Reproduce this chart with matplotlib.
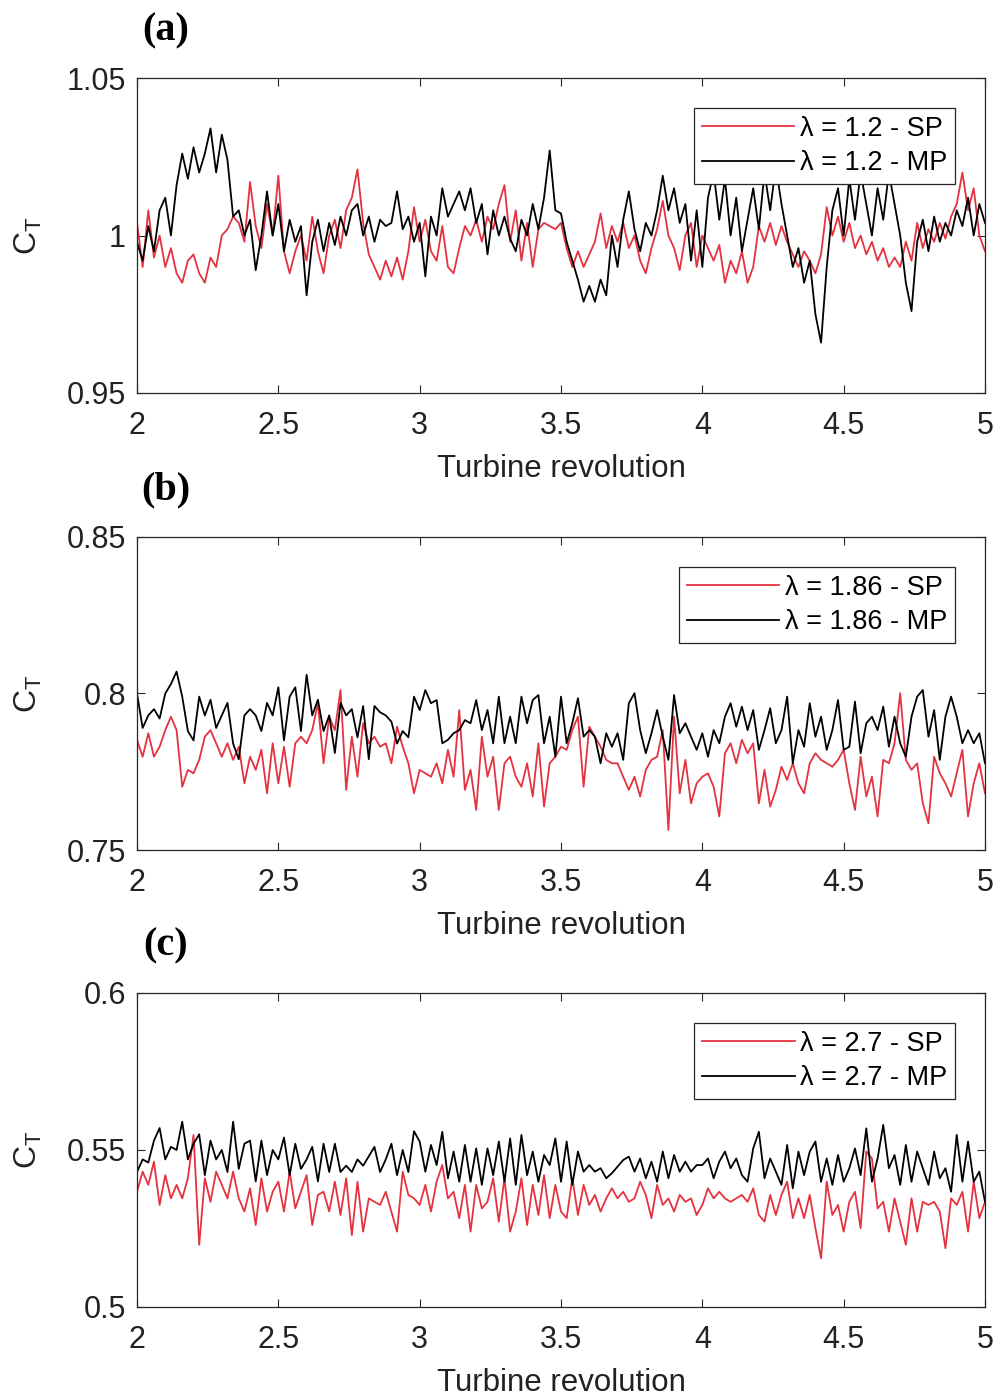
import matplotlib.pyplot as plt
import numpy as np

plt.rcParams['font.family'] = ['Liberation Sans', 'DejaVu Sans']
plt.rcParams['mathtext.fontset'] = 'custom'
plt.rcParams['mathtext.rm'] = 'Liberation Sans'

# revolution grid, 0.02 rev step
rev = np.linspace(2, 5, 151)

# (a) lambda = 1.2
ct_a_sp = [1.004, 0.990, 1.008, 0.993, 1.000, 0.990, 0.996, 0.988, 0.985, 0.992,
           0.994, 0.988, 0.985, 0.993, 0.990, 1.000, 1.002, 1.006, 1.004, 0.998,
           1.017, 1.003, 0.996, 1.010, 1.000, 1.019, 0.995, 0.988, 0.995, 1.000,
           0.992, 1.006, 0.995, 0.988, 1.000, 1.005, 0.996, 1.008, 1.012, 1.021,
           1.004, 0.994, 0.990, 0.986, 0.992, 0.987, 0.993, 0.986, 0.995, 1.009,
           0.998, 1.005, 0.995, 0.992, 1.003, 0.990, 0.988, 0.996, 1.003, 1.000,
           1.005, 0.998, 1.006, 1.002, 1.010, 1.016, 0.998, 1.008, 0.992, 1.004,
           0.990, 1.002, 1.004, 1.003, 1.002, 1.004, 0.996, 0.990, 0.995, 0.990,
           0.994, 0.998, 1.007, 0.996, 1.003, 0.998, 1.004, 0.996, 1.000, 0.992,
           0.988, 0.996, 1.002, 1.011, 1.000, 0.996, 0.989, 1.000, 1.004, 0.990,
           1.000, 0.996, 0.992, 0.997, 0.985, 0.992, 0.988, 0.995, 0.985, 0.990,
           1.003, 0.998, 1.004, 0.997, 1.003, 0.998, 0.994, 0.990, 0.995, 0.992,
           0.988, 0.994, 1.009, 1.000, 1.006, 0.998, 1.004, 0.996, 1.000, 0.994,
           0.998, 0.992, 0.996, 0.990, 0.993, 0.990, 0.998, 0.992, 1.004, 0.996,
           1.002, 0.998, 1.004, 0.999, 1.006, 1.010, 1.020, 1.008, 1.015, 1.000,
           0.995]
ct_a_mp = [0.998, 0.992, 1.003, 0.995, 1.008, 1.012, 1.000, 1.016, 1.026, 1.018,
           1.028, 1.020, 1.026, 1.034, 1.020, 1.032, 1.024, 1.006, 1.008, 1.000,
           1.005, 0.989, 1.000, 1.014, 1.000, 1.010, 0.995, 1.005, 0.998, 1.003,
           0.981, 0.998, 1.005, 0.995, 1.004, 0.997, 1.006, 1.000, 1.008, 1.010,
           1.000, 1.006, 0.998, 1.005, 1.003, 1.004, 1.014, 1.002, 1.006, 0.998,
           1.004, 0.987, 1.006, 1.000, 1.015, 1.006, 1.010, 1.014, 1.008, 1.015,
           1.004, 1.010, 0.994, 1.008, 1.000, 1.006, 0.999, 0.995, 1.005, 1.000,
           1.010, 1.002, 1.012, 1.027, 1.008, 1.007, 0.998, 0.992, 0.986, 0.979,
           0.984, 0.979, 0.986, 0.981, 1.000, 0.990, 1.005, 1.014, 1.002, 0.995,
           1.004, 1.000, 1.008, 1.019, 1.008, 1.015, 1.004, 1.010, 0.992, 1.008,
           0.990, 1.012, 1.020, 1.005, 1.018, 1.000, 1.012, 0.995, 1.005, 1.015,
           1.002, 1.020, 1.008, 1.022, 1.010, 1.000, 0.990, 0.996, 0.985, 0.992,
           0.975, 0.966, 0.990, 1.008, 1.015, 1.000, 1.018, 1.005, 1.020, 1.010,
           1.000, 1.015, 1.005, 1.020, 1.010, 1.000, 0.985, 0.976, 0.998, 1.005,
           0.995, 1.006, 0.998, 1.004, 1.000, 1.008, 1.003, 1.012, 1.000, 1.010,
           1.004]

# (b) lambda = 1.86
ct_b_sp = [0.7852, 0.7798, 0.7873, 0.7798, 0.7830, 0.7883, 0.7926, 0.7883, 0.7702, 0.7756,
           0.7745, 0.7788, 0.7862, 0.7883, 0.7841, 0.7798, 0.7841, 0.7788, 0.7830, 0.7713,
           0.7798, 0.7756, 0.7820, 0.7681, 0.7841, 0.7713, 0.7830, 0.7702, 0.7841, 0.7862,
           0.7841, 0.7883, 0.7969, 0.7777, 0.7926, 0.7883, 0.8011, 0.7692, 0.7862, 0.7734,
           0.7905, 0.7841, 0.7862, 0.7830, 0.7841, 0.7777, 0.7894, 0.7830, 0.7777, 0.7681,
           0.7756, 0.7745, 0.7734, 0.7777, 0.7713, 0.7820, 0.7734, 0.7947, 0.7692, 0.7756,
           0.7628, 0.7862, 0.7734, 0.7798, 0.7628, 0.7777, 0.7798, 0.7734, 0.7702, 0.7777,
           0.7671, 0.7841, 0.7639, 0.7777, 0.7798, 0.7830, 0.7820, 0.7883, 0.7926, 0.7702,
           0.7894, 0.7862, 0.7830, 0.7788, 0.7777, 0.7777, 0.7734, 0.7692, 0.7734, 0.7671,
           0.7756, 0.7788, 0.7798, 0.7883, 0.7564, 0.7926, 0.7681, 0.7788, 0.7649, 0.7713,
           0.7734, 0.7745, 0.7702, 0.7607, 0.7809, 0.7841, 0.7777, 0.7852, 0.7809, 0.7841,
           0.7649, 0.7756, 0.7639, 0.7692, 0.7766, 0.7724, 0.7777, 0.7713, 0.7681, 0.7777,
           0.7809, 0.7788, 0.7777, 0.7766, 0.7788, 0.7820, 0.7713, 0.7628, 0.7798, 0.7671,
           0.7734, 0.7607, 0.7788, 0.7777, 0.7841, 0.8001, 0.7788, 0.7756, 0.7777, 0.7649,
           0.7585, 0.7798, 0.7745, 0.7713, 0.7671, 0.7745, 0.7820, 0.7607, 0.7713, 0.7777,
           0.7681]
ct_b_mp = [0.800, 0.789, 0.793, 0.795, 0.792, 0.800, 0.803, 0.807, 0.799, 0.788,
           0.785, 0.799, 0.793, 0.798, 0.789, 0.793, 0.797, 0.784, 0.779, 0.793,
           0.795, 0.793, 0.788, 0.797, 0.793, 0.802, 0.785, 0.799, 0.802, 0.788,
           0.806, 0.793, 0.798, 0.788, 0.793, 0.781, 0.797, 0.793, 0.795, 0.786,
           0.796, 0.779, 0.796, 0.794, 0.793, 0.791, 0.784, 0.788, 0.786, 0.799,
           0.7947, 0.8011, 0.7969, 0.7979, 0.7841, 0.7852, 0.7873, 0.7883, 0.7915, 0.7905,
           0.7979, 0.7883, 0.7947, 0.7841, 0.7990, 0.7841, 0.7926, 0.7841, 0.7990, 0.7905,
           0.7979, 0.7995, 0.7841, 0.7926, 0.7798, 0.7990, 0.7841, 0.7905, 0.7985, 0.7862,
           0.7883, 0.7862, 0.7777, 0.7873, 0.7830, 0.7873, 0.7788, 0.7969, 0.8001, 0.7883,
           0.7809, 0.7873, 0.7947, 0.7862, 0.7788, 0.7995, 0.7873, 0.7905, 0.7862, 0.7820,
           0.7873, 0.7798, 0.7883, 0.7841, 0.7926, 0.7969, 0.7894, 0.7958, 0.7883, 0.7947,
           0.7820, 0.7883, 0.7953, 0.7841, 0.7883, 0.7990, 0.7777, 0.7883, 0.7830, 0.7969,
           0.7862, 0.7926, 0.7820, 0.7883, 0.7979, 0.7820, 0.7830, 0.7974, 0.7809, 0.7905,
           0.7926, 0.7883, 0.7958, 0.7830, 0.7926, 0.7841, 0.7798, 0.7926, 0.7990, 0.8011,
           0.7862, 0.7947, 0.7788, 0.7926, 0.7990, 0.7926, 0.7841, 0.7883, 0.7841, 0.7873,
           0.7777]

# (c) lambda = 2.7
ct_c_sp = [0.5367, 0.5431, 0.5389, 0.5463, 0.5325, 0.5420, 0.5346, 0.5389, 0.5346, 0.5410,
           0.5548, 0.5198, 0.5410, 0.5335, 0.5431, 0.5389, 0.5346, 0.5431, 0.5346, 0.5304,
           0.5378, 0.5261, 0.5410, 0.5304, 0.5367, 0.5399, 0.5304, 0.5431, 0.5314, 0.5367,
           0.5420, 0.5261, 0.5357, 0.5367, 0.5304, 0.5399, 0.5293, 0.5410, 0.5229, 0.5399,
           0.5240, 0.5346, 0.5335, 0.5325, 0.5367, 0.5304, 0.5240, 0.5431, 0.5357, 0.5346,
           0.5325, 0.5389, 0.5304, 0.5399, 0.5452, 0.5346, 0.5367, 0.5283, 0.5389, 0.5240,
           0.5389, 0.5314, 0.5335, 0.5410, 0.5272, 0.5410, 0.5240, 0.5304, 0.5410, 0.5261,
           0.5389, 0.5293, 0.5420, 0.5283, 0.5389, 0.5304, 0.5283, 0.5410, 0.5293, 0.5389,
           0.5325, 0.5357, 0.5304, 0.5346, 0.5378, 0.5346, 0.5367, 0.5335, 0.5346, 0.5399,
           0.5357, 0.5283, 0.5389, 0.5325, 0.5346, 0.5304, 0.5357, 0.5335, 0.5346, 0.5293,
           0.5325, 0.5378, 0.5346, 0.5367, 0.5346, 0.5335, 0.5346, 0.5357, 0.5335, 0.5378,
           0.5293, 0.5272, 0.5357, 0.5293, 0.5357, 0.5399, 0.5283, 0.5346, 0.5283, 0.5357,
           0.5251, 0.5155, 0.5399, 0.5293, 0.5325, 0.5240, 0.5335, 0.5367, 0.5251, 0.5495,
           0.5473, 0.5314, 0.5335, 0.5240, 0.5346, 0.5272, 0.5198, 0.5346, 0.5240, 0.5335,
           0.5325, 0.5335, 0.5304, 0.5187, 0.5346, 0.5325, 0.5367, 0.5240, 0.5399, 0.5283,
           0.5335]
ct_c_mp = [0.543, 0.547, 0.546, 0.553, 0.557, 0.547, 0.551, 0.550, 0.559, 0.547,
           0.552, 0.555, 0.542, 0.553, 0.547, 0.550, 0.543, 0.559, 0.544, 0.552,
           0.553, 0.540, 0.553, 0.542, 0.550, 0.547, 0.554, 0.542, 0.552, 0.544,
           0.547, 0.551, 0.540, 0.552, 0.543, 0.552, 0.543, 0.545, 0.543, 0.547,
           0.545, 0.548, 0.551, 0.543, 0.547, 0.552, 0.542, 0.550, 0.543, 0.556,
           0.5527, 0.5431, 0.5516, 0.5452, 0.5558, 0.5410, 0.5495, 0.5399, 0.5516, 0.5399,
           0.5505, 0.5389, 0.5505, 0.5420, 0.5527, 0.5399, 0.5537, 0.5389, 0.5548, 0.5420,
           0.5495, 0.5399, 0.5484, 0.5452, 0.5537, 0.5399, 0.5527, 0.5389, 0.5495, 0.5431,
           0.5452, 0.5431, 0.5442, 0.5410, 0.5426, 0.5447, 0.5468, 0.5479, 0.5431, 0.5473,
           0.5410, 0.5463, 0.5399, 0.5495, 0.5410, 0.5484, 0.5431, 0.5463, 0.5431, 0.5452,
           0.5452, 0.5473, 0.5410, 0.5463, 0.5495, 0.5442, 0.5473, 0.5420, 0.5399, 0.5505,
           0.5558, 0.5410, 0.5473, 0.5431, 0.5389, 0.5516, 0.5378, 0.5495, 0.5420, 0.5495,
           0.5527, 0.5399, 0.5473, 0.5389, 0.5484, 0.5399, 0.5442, 0.5505, 0.5420, 0.5569,
           0.5399, 0.5473, 0.5580, 0.5442, 0.5484, 0.5389, 0.5516, 0.5399, 0.5495, 0.5442,
           0.5389, 0.5495, 0.5410, 0.5442, 0.5367, 0.5548, 0.5399, 0.5527, 0.5399, 0.5431,
           0.5335]

panels = [
    ('(a)', ct_a_sp, ct_a_mp, '1.2', (0.95, 1.05), [0.95, 1.0, 1.05], ['0.95', '1', '1.05']),
    ('(b)', ct_b_sp, ct_b_mp, '1.86', (0.75, 0.85), [0.75, 0.8, 0.85], ['0.75', '0.8', '0.85']),
    ('(c)', ct_c_sp, ct_c_mp, '2.7', (0.5, 0.6), [0.5, 0.55, 0.6], ['0.5', '0.55', '0.6']),
]

W, H = 998, 1398
fig = plt.figure(figsize=(W / 100, H / 100), dpi=100)

# axes boxes in pixels: top, bottom
boxes = [(78, 393), (537, 850), (993, 1307)]
left, right = 137, 985
red = '#e4323f'
axc = '#262626'

for (tag, sp, mp, lam, ylim, yt, ytl), (top, bot) in zip(panels, boxes):
    ax = fig.add_axes([left / W, 1 - bot / H, (right - left) / W, (bot - top) / H])
    ax.plot(rev, sp, color=red, lw=1.3, label='λ = ' + lam + ' - SP')
    ax.plot(rev, mp, color='black', lw=1.3, label='λ = ' + lam + ' - MP')
    ax.set_xlim(2, 5)
    ax.set_ylim(*ylim)
    ax.set_xticks([2, 2.5, 3, 3.5, 4, 4.5, 5])
    ax.set_xticklabels(['2', '2.5', '3', '3.5', '4', '4.5', '5'])
    ax.set_yticks(yt)
    ax.set_yticklabels(ytl)
    ax.tick_params(direction='in', top=True, right=True, length=6, width=0.8,
                   labelsize=22, colors=axc, labelcolor='#222222')
    ax.tick_params(axis='x', pad=13)
    ax.tick_params(axis='y', pad=8)
    for s in ax.spines.values():
        s.set_color(axc)
        s.set_linewidth(0.9)
    ax.set_xlabel('Turbine revolution', fontsize=22.5, color='#222222', labelpad=9)
    ax.set_ylabel(r'$\mathregular{C_T}$', fontsize=23, color='#222222', labelpad=16)
    leg = ax.legend(loc='upper right', fontsize=19.5, handlelength=3.4, handletextpad=0.2,
                    borderpad=0.3, labelspacing=0.3, fancybox=False,
                    borderaxespad=1.1, framealpha=1)
    leg.get_frame().set_edgecolor(axc)
    leg.get_frame().set_linewidth(0.9)
    fig.text(166 / W, 1 - (top - 47) / H, tag, family='Liberation Serif', weight='bold',
             fontsize=29, ha='center', va='center')

fig.savefig('out.png', dpi=100)
